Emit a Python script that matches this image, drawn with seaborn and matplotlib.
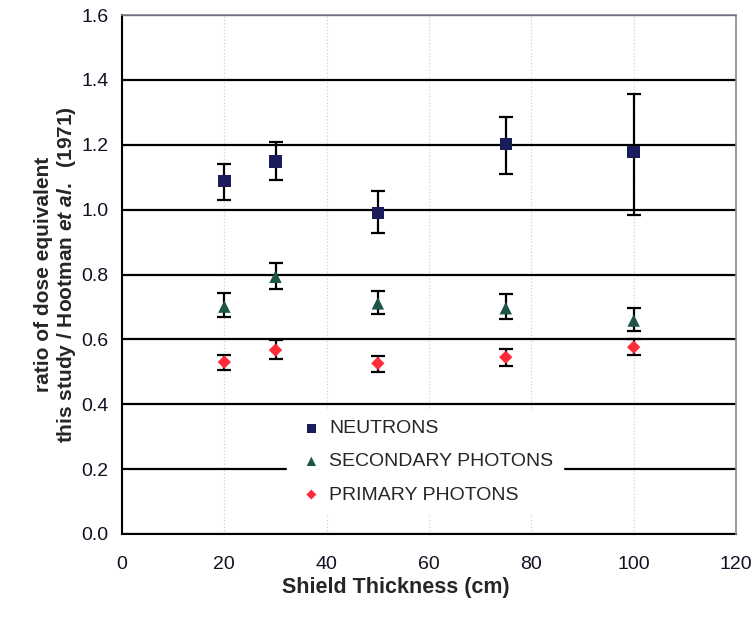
import matplotlib
matplotlib.use("Agg")
import matplotlib.pyplot as plt
import seaborn as sns
import pandas as pd

# ---- data ----
thickness = [20, 30, 50, 75, 100]
series_names = ["NEUTRONS", "SECONDARY PHOTONS", "PRIMARY PHOTONS"]

neutrons = [1.088, 1.149, 0.990, 1.202, 1.177]
neutrons_lo = [1.030, 1.092, 0.928, 1.109, 0.984]
neutrons_hi = [1.141, 1.207, 1.057, 1.285, 1.355]

secondary = [0.701, 0.793, 0.711, 0.696, 0.658]
secondary_lo = [0.670, 0.755, 0.678, 0.664, 0.627]
secondary_hi = [0.743, 0.834, 0.750, 0.740, 0.696]

primary = [0.530, 0.567, 0.526, 0.545, 0.576]
primary_lo = [0.505, 0.540, 0.498, 0.518, 0.551]
primary_hi = [0.553, 0.598, 0.548, 0.571, 0.600]

x_ticks = [0, 20, 40, 60, 80, 100, 120]
y_ticks = [0.0, 0.2, 0.4, 0.6, 0.8, 1.0, 1.2, 1.4, 1.6]

colors = {"NEUTRONS": "#1a1c5c", "SECONDARY PHOTONS": "#1f5449", "PRIMARY PHOTONS": "#ff2b3b"}
markers = {"NEUTRONS": "s", "SECONDARY PHOTONS": "^", "PRIMARY PHOTONS": "D"}
sizes = {"NEUTRONS": 80, "SECONDARY PHOTONS": 80, "PRIMARY PHOTONS": 46}

vals = [neutrons, secondary, primary]
los = [neutrons_lo, secondary_lo, primary_lo]
his = [neutrons_hi, secondary_hi, primary_hi]

rows = []
for name, v, lo, hi in zip(series_names, vals, los, his):
    for t, y, l, h in zip(thickness, v, lo, hi):
        rows.append({"thickness": t, "ratio": y, "lo": l, "hi": h, "series": name})
df = pd.DataFrame(rows)

sns.set_style("white")
plt.rcParams["font.family"] = ["Liberation Sans", "DejaVu Sans"]
plt.rcParams["mathtext.fontset"] = "custom"
plt.rcParams["mathtext.it"] = "Liberation Sans:italic:bold"
plt.rcParams["mathtext.rm"] = "Liberation Sans:bold"

fig = plt.figure(figsize=(7.54, 6.17), dpi=100)
ax = fig.add_axes([122 / 754, 1 - 534 / 617, (736 - 122) / 754, (534 - 15) / 617])

# error bars
for name in series_names:
    sub = df[df["series"] == name]
    ax.errorbar(sub["thickness"], sub["ratio"],
                yerr=[sub["ratio"] - sub["lo"], sub["hi"] - sub["ratio"]],
                fmt="none", ecolor="black", elinewidth=1.6, capsize=5, capthick=1.6, zorder=3)

# markers
for name in series_names:
    sub = df[df["series"] == name]
    sns.scatterplot(data=sub, x="thickness", y="ratio", ax=ax, marker=markers[name],
                    color=colors[name], s=sizes[name], edgecolor="none", linewidth=0,
                    label=name, zorder=4)

ax.set_xlim(0, 120)
ax.set_ylim(0, 1.6)
ax.set_xticks(x_ticks)
ax.set_yticks(y_ticks)
ax.set_xticklabels([str(t) for t in x_ticks])
ax.set_yticklabels([f"{t:.1f}" for t in y_ticks])

ax.set_axisbelow(True)
ax.yaxis.grid(True, color="black", linewidth=1.6)
ax.xaxis.grid(True, color="#c9d3dc", linestyle=":", linewidth=0.9)

for s in ["left", "bottom"]:
    ax.spines[s].set_color("black")
    ax.spines[s].set_linewidth(1.5)
for s in ["top", "right"]:
    ax.spines[s].set_color("#858596")
    ax.spines[s].set_linewidth(1.2)
    ax.spines[s].set_zorder(5)

ax.tick_params(axis="both", direction="inout", length=9, width=1.3, color="black",
               labelsize=14, labelcolor="#111122")
ax.tick_params(axis="x", pad=11)
ax.tick_params(axis="y", pad=5)

ax.set_xlabel("Shield Thickness (cm)", fontsize=15.5, fontweight="bold", va="center")
ax.xaxis.set_label_coords((396 - 122) / 614, (534 - 588) / 519)
ax.set_ylabel("ratio of dose equivalent\nthis study / Hootman $\\mathit{et\\ al.}$  (1971)",
              fontsize=15, fontweight="bold", va="center", linespacing=1.08)
ax.yaxis.set_label_coords((56 - 122) / 614, 0.5)

h, l = ax.get_legend_handles_labels()
leg = ax.legend(h, l, loc="upper left", bbox_to_anchor=(0.268, 0.239), frameon=True,
                facecolor="white", edgecolor="white", framealpha=1, fontsize=14,
                handletextpad=0.15, labelspacing=0.8, borderpad=0.5, handlelength=1.55,
                markerscale=0.75, borderaxespad=0)
leg.set_zorder(6)

fig.savefig("out.png", dpi=100)
